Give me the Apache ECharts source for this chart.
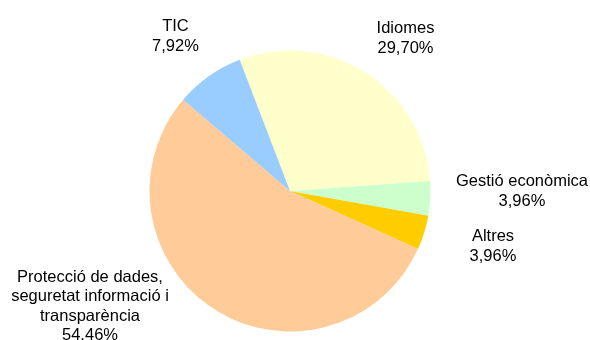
<!DOCTYPE html>
<html>
<head>
<meta charset="utf-8">
<script src="https://cdn.jsdelivr.net/npm/echarts@6/dist/echarts.min.js"></script>
<style>
  html, body { margin: 0; padding: 0; background: #ffffff; }
  #chart { width: 590px; height: 340px; }
</style>
</head>
<body>
<div id="chart"></div>
<script>
// Training hours by area (share of total, %)
const categories = [
  'Idiomes',
  'Gestió econòmica',
  'Altres',
  'Protecció de dades,\nseguretat informació i\ntransparència',
  'TIC'
];
const shares = [29.70, 3.96, 3.96, 54.46, 7.92];
const decimalMarks = [',', ',', ',', '.', ','];

const sliceColors = ['#FFFFCC', '#CCFFCC', '#FFCC00', '#FFCC99', '#99CCFF'];

// Where each label block is centred on the canvas
const labelAnchors = [
  [405.5, 38.5],
  [522, 191.5],
  [493, 246.5],
  [90, 306.5],
  [175.5, 36.5]
];

const chart = echarts.init(document.getElementById('chart'), null, { renderer: 'canvas' });

chart.setOption({
  backgroundColor: '#ffffff',
  animation: false,
  series: [{
    type: 'pie',
    center: [290, 191],
    radius: 140.5,
    startAngle: 111,
    clockwise: true,
    avoidLabelOverlap: false,
    itemStyle: { borderWidth: 0 },
    emphasis: { disabled: true },
    label: {
      show: true,
      position: 'outside',
      fontFamily: '"Liberation Sans", Arial, sans-serif',
      fontSize: 16.5,
      lineHeight: 19.5,
      color: '#000000',
      formatter: function (p) {
        const pct = p.value.toFixed(2).replace('.', decimalMarks[p.dataIndex]);
        return p.name + '\n' + pct + '%';
      }
    },
    labelLine: { show: false },
    labelLayout: function (params) {
      const a = labelAnchors[params.dataIndex];
      return { x: a[0], y: a[1], align: 'center', verticalAlign: 'middle' };
    },
    data: categories.map(function (name, i) {
      return { name: name, value: shares[i], itemStyle: { color: sliceColors[i] } };
    })
  }]
});
</script>
</body>
</html>
